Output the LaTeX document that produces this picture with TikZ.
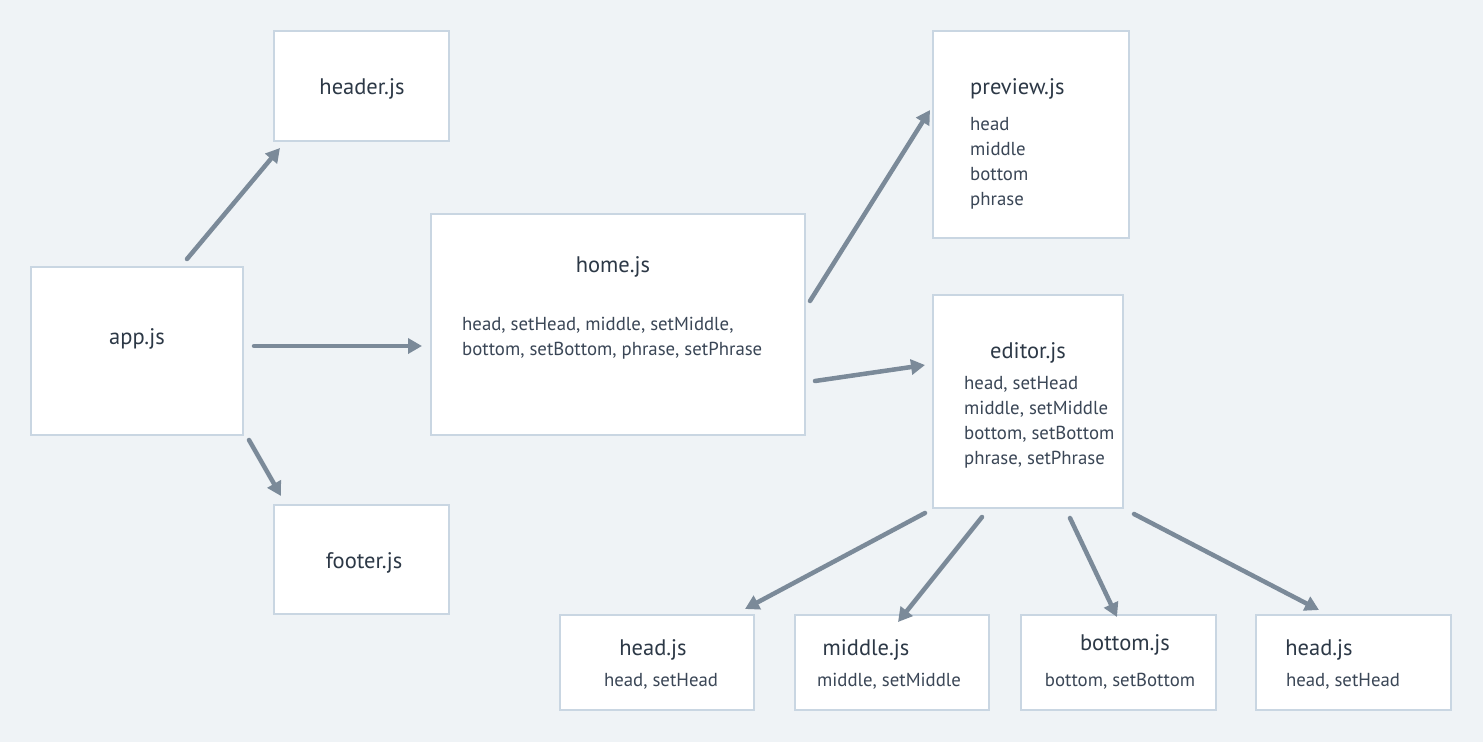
\documentclass[tikz,border=0pt]{standalone}
\usepackage{fontspec}
\setmainfont{PT Sans}
\usetikzlibrary{arrows.meta}
\definecolor{bg}{HTML}{EFF3F6}
\definecolor{bord}{HTML}{C9D6E2}
\definecolor{arr}{HTML}{7B8A99}
\definecolor{txt}{HTML}{3A4656}
\definecolor{ttxt}{HTML}{2C3846}
\tikzset{
  box/.style={draw=bord, line width=2.5pt, fill=white, inner sep=0pt},
  ttl/.style={text=ttxt, font=\fontsize{22.5}{26}\selectfont, inner sep=0pt},
  bod/.style={text=txt, font=\fontsize{18.8}{25}\selectfont, inner sep=0pt, align=left},
  conn/.style={draw=arr, line width=4.5pt, line cap=round, -{Triangle[length=14pt,width=15pt]}}
}
\begin{document}
\begin{tikzpicture}[x=1pt,y=-1pt]
\fill[bg] (0,0) rectangle (1483,742);
\useasboundingbox (0,0) rectangle (1483,742);
% boxes
\node[box, minimum width=175pt, minimum height=110pt] (header) at (361.5,86) {};
\node[box, minimum width=212pt, minimum height=168pt] (app) at (137,351) {};
\node[box, minimum width=175pt, minimum height=109pt] (footer) at (361.5,559.5) {};
\node[box, minimum width=374pt, minimum height=221pt] (home) at (618,324.5) {};
\node[box, minimum width=196pt, minimum height=207pt] (preview) at (1031,134.5) {};
\node[box, minimum width=190pt, minimum height=213pt] (editor) at (1028,401.5) {};
\node[box, minimum width=194pt, minimum height=95pt] (headA) at (657,662.5) {};
\node[box, minimum width=194pt, minimum height=95pt] (middle) at (892,662.5) {};
\node[box, minimum width=195pt, minimum height=95pt] (bottom) at (1118.5,662.5) {};
\node[box, minimum width=195pt, minimum height=95pt] (headB) at (1353.5,662.5) {};
% texts
\node[ttl] (tHeader) at (362,89) {header.js};
\node[ttl] (tApp) at (137,339) {app.js};
\node[ttl] (tFooter) at (364,563) {footer.js};
\node[ttl] (tHome) at (613,267) {home.js};
\node[bod, anchor=west] (bHome) at (462,338) {head, setHead, middle, setMiddle,\\bottom, setBottom, phrase, setPhrase};
\node[ttl, anchor=west] (tPreview) at (970,89) {preview.js};
\node[bod, anchor=north west] (bPreview) at (970,117) {head\\middle\\bottom\\phrase};
\node[ttl] (tEditor) at (1028,353) {editor.js};
\node[bod, anchor=north west] (bEditor) at (964,376) {head, setHead\\middle, setMiddle\\bottom, setBottom\\phrase, setPhrase};
\node[ttl] (tHeadA) at (653,650) {head.js};
\node[bod] (bHeadA) at (661,681) {head, setHead};
\node[ttl] (tMiddle) at (866,650) {middle.js};
\node[bod] (bMiddle) at (889,681) {middle, setMiddle};
\node[ttl] (tBottom) at (1125,645) {bottom.js};
\node[bod] (bBottom) at (1120,681) {bottom, setBottom};
\node[ttl] (tHeadB) at (1319,650) {head.js};
\node[bod] (bHeadB) at (1343,681) {head, setHead};
% connector end points
\coordinate (a1) at (187,259); \coordinate (a1e) at (280,148);
\coordinate (a2) at (254,346); \coordinate (a2e) at (422,346);
\coordinate (a3) at (249,440); \coordinate (a3e) at (281,496);
\coordinate (h1) at (810,301); \coordinate (h1e) at (930,110);
\coordinate (h2) at (815,381); \coordinate (h2e) at (925,365);
\coordinate (e1) at (925,513); \coordinate (e1e) at (745,609);
\coordinate (e2) at (982,517); \coordinate (e2e) at (898,622);
\coordinate (e3) at (1070,518); \coordinate (e3e) at (1117,617);
\coordinate (e4) at (1134,514); \coordinate (e4e) at (1319,610);
\draw[conn] (a1) -- (a1e);
\draw[conn] (a2) -- (a2e);
\draw[conn] (a3) -- (a3e);
\draw[conn] (h1) -- (h1e);
\draw[conn] (h2) -- (h2e);
\draw[conn] (e1) -- (e1e);
\draw[conn] (e2) -- (e2e);
\draw[conn] (e3) -- (e3e);
\draw[conn] (e4) -- (e4e);
\end{tikzpicture}
\end{document}
